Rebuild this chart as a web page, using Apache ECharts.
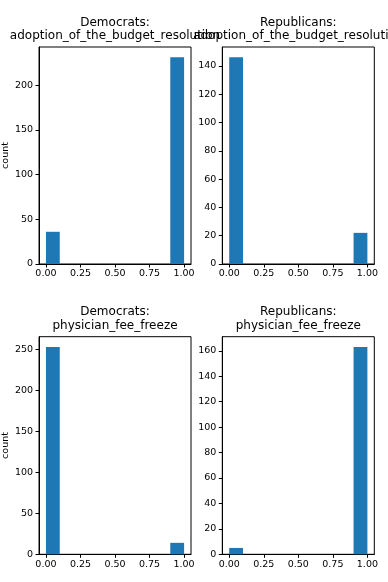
<!DOCTYPE html>
<html>
<head>
<meta charset="utf-8">
<script src="https://cdn.jsdelivr.net/npm/echarts@6/dist/echarts.min.js"></script>
<style>html,body{margin:0;padding:0;background:#fff}#c{width:388px;height:582px}</style>
</head>
<body>
<div id="c"></div>
<script>
const binEdges = [0, 0.1, 0.2, 0.3, 0.4, 0.5, 0.6, 0.7, 0.8, 0.9, 1.0];
const demBudget = [36, 0, 0, 0, 0, 0, 0, 0, 0, 231];
const repBudget = [146, 0, 0, 0, 0, 0, 0, 0, 0, 22];
const demFee = [253, 0, 0, 0, 0, 0, 0, 0, 0, 14];
const repFee = [5, 0, 0, 0, 0, 0, 0, 0, 0, 163];
const xTicks = [0, 0.25, 0.5, 0.75, 1.0];
const yTicksDemBudget = [0, 50, 100, 150, 200];
const yTicksRepBudget = [0, 20, 40, 60, 80, 100, 120, 140];
const yTicksDemFee = [0, 50, 100, 150, 200, 250];
const yTicksRepFee = [0, 20, 40, 60, 80, 100, 120, 140, 160];
const titles = [
  'Democrats:\nadoption_of_the_budget_resolution',
  'Republicans:\nadoption_of_the_budget_resolution',
  'Democrats:\nphysician_fee_freeze',
  'Republicans:\nphysician_fee_freeze'
];

const panels = [
  {counts: demBudget, yt: yTicksDemBudget, grid: {left: 39, top: 47, width: 152, height: 217}, ylabel: true},
  {counts: repBudget, yt: yTicksRepBudget, grid: {left: 222.3, top: 47, width: 152, height: 217}, ylabel: false},
  {counts: demFee, yt: yTicksDemFee, grid: {left: 39, top: 336.7, width: 152, height: 217.6}, ylabel: true},
  {counts: repFee, yt: yTicksRepFee, grid: {left: 222.3, top: 336.7, width: 152, height: 217.6}, ylabel: false}
];

const FONT = 'DejaVu Sans';
const tickFs = 9.5;
const color = '#1f77b4';

const grids = [], xAxes = [], yAxes = [], series = [], title = [];
panels.forEach((p, i) => {
  grids.push(Object.assign({show: true, borderColor: '#000', borderWidth: 1, backgroundColor: '#fff'}, p.grid));
  xAxes.push({
    type: 'value', gridIndex: i, min: -0.05, max: 1.05,
    axisLine: {show: true, onZero: false, lineStyle: {color: '#000', width: 1}},
    axisTick: {show: true, customValues: xTicks, length: 3.5, lineStyle: {color: '#000'}},
    axisLabel: {customValues: xTicks, formatter: v => v.toFixed(2), color: '#000', fontFamily: FONT, fontSize: tickFs, margin: 5},
    splitLine: {show: false}
  });
  const ymax = Math.max.apply(null, p.counts) * 1.05;
  yAxes.push({
    type: 'value', gridIndex: i, min: 0, max: ymax,
    name: p.ylabel ? 'count' : '', nameLocation: 'middle', nameGap: 28, nameRotate: 90,
    nameTextStyle: {color: '#000', fontFamily: FONT, fontSize: tickFs},
    axisLine: {show: true, onZero: false, lineStyle: {color: '#000', width: 1}},
    axisTick: {show: true, customValues: p.yt, length: 3.5, lineStyle: {color: '#000'}},
    axisLabel: {customValues: p.yt, color: '#000', fontFamily: FONT, fontSize: tickFs, margin: 6},
    splitLine: {show: false}
  });
  const data = p.counts.map((c, k) => [binEdges[k], binEdges[k + 1], c]);
  series.push({
    type: 'custom', xAxisIndex: i, yAxisIndex: i, data: data,
    encode: {x: [0, 1], y: 2},
    renderItem: function (params, api) {
      const a = api.coord([api.value(0), api.value(2)]);
      const b = api.coord([api.value(1), 0]);
      return {type: 'rect', shape: {x: a[0], y: a[1], width: b[0] - a[0], height: b[1] - a[1]}, style: {fill: color}};
    }
  });
  title.push({
    text: titles[i], left: p.grid.left + p.grid.width / 2, top: p.grid.top - 31.5, textAlign: 'center', padding: 0,
    textStyle: {color: '#000', fontFamily: FONT, fontSize: 12, fontWeight: 'normal', lineHeight: 13.8}
  });
});

const chart = echarts.init(document.getElementById('c'), null, {renderer: 'canvas'});
chart.setOption({animation: false, backgroundColor: '#fff', title: title, grid: grids, xAxis: xAxes, yAxis: yAxes, series: series});
</script>
</body>
</html>
